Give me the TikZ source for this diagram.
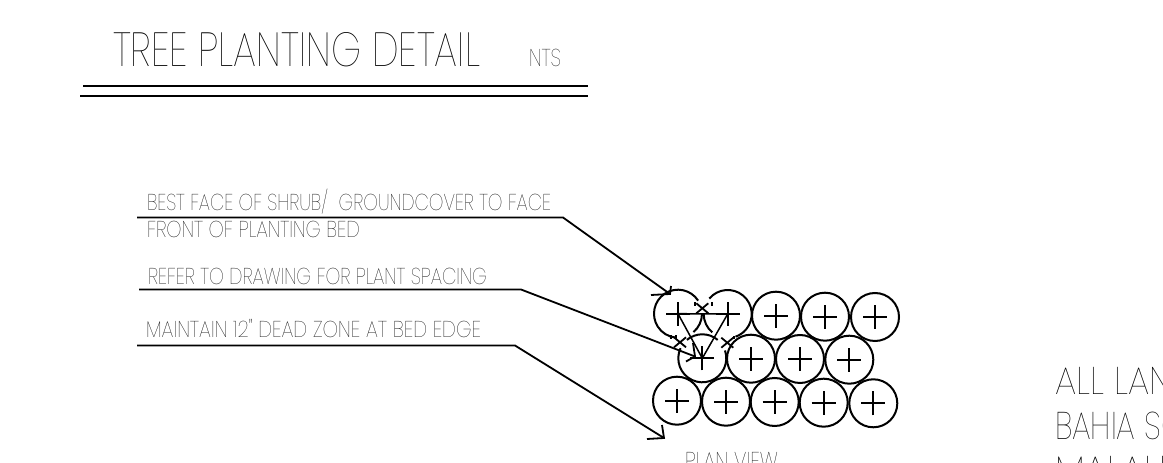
\documentclass[tikz,border=0pt]{standalone}
\usepackage{graphicx}
\usepackage{fontspec}
\newfontfamily\handfont[UprightFont=* Thin]{Poppins}
\newcommand{\lettering}[3]{\resizebox{#1pt}{#2pt}{\handfont\rule{0pt}{0.7em}\smash{#3}}}
\tikzset{
  lettered/.style={anchor=base west,inner sep=0pt,outer sep=0pt},
  leader/.style={line width=1.8pt},
  titlerule/.style={line width=2.2pt},
  plantbare/.style={circle,inner sep=0pt,minimum size=48pt,line width=2pt,
    path picture={
      \draw[line width=1.8pt] (path picture bounding box.center) +(-12,0) -- +(12,0) +(0,-12) -- +(0,12);
    }},
  plant/.style={plantbare,draw},
  plantarc/.style={line width=2pt},
  spacingline/.style={line width=1.5pt},
  deadmark/.style={line width=1.8pt}
}
\begin{document}
\begin{tikzpicture}[x=1pt,y=1pt]
\useasboundingbox (0,0) rectangle (1163,463);
%%TITLE
\node[lettered] (title) at (113,396.5) {\lettering{367}{33.5}{TREE PLANTING DETAIL}};
\node[lettered] (nts) at (529,396) {\lettering{32}{17}{NTS}};
\coordinate (ruleAa) at (83,377);
\coordinate (ruleAb) at (588,377);
\coordinate (ruleBa) at (80,367);
\coordinate (ruleBb) at (588,367);
\draw[titlerule] (ruleAa) -- (ruleAb);
\draw[titlerule] (ruleBa) -- (ruleBb);
%%NOTES
\node[lettered] (noteface) at (147,252.3) {\lettering{404}{16}{BEST FACE OF SHRUB/\ \ GROUNDCOVER TO FACE}};
\node[lettered] (notefront) at (147,225) {\lettering{213}{16}{FRONT OF PLANTING BED}};
\node[lettered] (notespacing) at (148,178) {\lettering{339}{16}{REFER TO DRAWING FOR PLANT SPACING}};
\node[lettered] (notezone) at (146,125) {\lettering{335}{16}{MAINTAIN 12" DEAD ZONE AT BED EDGE}};
\node[lettered] (planview) at (685,-7) {\lettering{93}{17}{PLAN VIEW}};
%%LAWN NOTE, RUNS OFF THE SHEET
\node[lettered] (lawna) at (1055,68) {\lettering{117}{27}{ALL LAN}};
\node[lettered] (lawnb) at (1055,23) {\lettering{130}{27}{BAHIA SC}};
\node[lettered] (lawnc) at (1055,-21) {\lettering{122}{27}{MALALE}};
%%PLANTS
\node[plantbare] (p11) at (678,149.3) {};
\node[plantbare] (p12) at (727.7,149) {};
\node[plant] (p13) at (776,147.3) {};
\node[plant] (p14) at (825,146.3) {};
\node[plant] (p15) at (875,146) {};
\node[plantbare] (p21) at (702.3,104.7) {};
\node[plant] (p22) at (751,104.3) {};
\node[plant] (p23) at (800,104) {};
\node[plant] (p24) at (849.3,103.3) {};
\node[plant] (p31) at (677,62.3) {};
\node[plant] (p32) at (726,61.3) {};
\node[plant] (p33) at (774.7,61) {};
\node[plant] (p34) at (823.7,60.3) {};
\node[plant] (p35) at (873.3,59.7) {};
\draw[plantarc] ([shift={(33:24)}]p11.center) arc[start angle=33,end angle=263,radius=24];
\draw[plantarc] ([shift={(-50:24)}]p11.center) arc[start angle=-50,end angle=0,radius=24];
\draw[plantarc] ([shift={(140:24)}]p12.center) arc[start angle=140,end angle=-71,radius=24];
\draw[plantarc] ([shift={(180:24)}]p12.center) arc[start angle=180,end angle=230,radius=24];
\draw[plantarc] ([shift={(155:24)}]p21.center) arc[start angle=155,end angle=379,radius=24];
\draw[plantarc] ([shift={(50:24)}]p21.center) arc[start angle=50,end angle=130,radius=24];
\draw[spacingline] (p11.center) -- (p12.center) -- (p21.center) -- cycle;
%%DEAD ZONE MARKS
\coordinate (marktop) at (702.3,154.7);
\coordinate (markleft) at (680,120.7);
\coordinate (markright) at (727.3,120.3);
\draw[deadmark] (marktop) +(-6,-5) -- +(6,5) +(-6,5) -- +(6,-5);
\draw[deadmark] (markleft) +(-6,-5) -- +(6,5) +(-6,5) -- +(6,-5);
\draw[deadmark] (markright) +(-6,-5) -- +(6,5) +(-6,5) -- +(6,-5);
\draw[deadmark] (marktop) +(-7,2.5) -- +(-7,6.5) +(10,2.5) -- +(10,6.5);
\draw[deadmark] (markleft) +(-9,3.5) -- +(-9,7) +(-4,3.5) -- +(-4,7);
\draw[deadmark] (markright) +(7,3.5) -- +(7,7);
%%LEADERS
\coordinate (faceA) at (137,245.5);
\coordinate (faceB) at (563,245.5);
\coordinate (faceC) at (670,169);
\coordinate (faceL) at (651,168);
\coordinate (faceU) at (671,177);
\coordinate (spacingA) at (139,173.5);
\coordinate (spacingB) at (521,173.5);
\coordinate (spacingC) at (695,106.5);
\coordinate (spacingL) at (686,101.5);
\coordinate (spacingU) at (693,120);
\coordinate (zoneA) at (137,117.5);
\coordinate (zoneB) at (515,117.5);
\coordinate (zoneC) at (664,25);
\coordinate (zoneL) at (647,24);
\coordinate (zoneU) at (662,38);
\draw[leader] (faceA) -- (faceB) -- (faceC);
\draw[leader] (faceL) -- (faceC) -- (faceU);
\draw[leader] (spacingA) -- (spacingB) -- (spacingC);
\draw[leader] (spacingL) -- (spacingC) -- (spacingU);
\draw[leader] (zoneA) -- (zoneB) -- (zoneC);
\draw[leader] (zoneL) -- (zoneC) -- (zoneU);
\end{tikzpicture}
\end{document}
